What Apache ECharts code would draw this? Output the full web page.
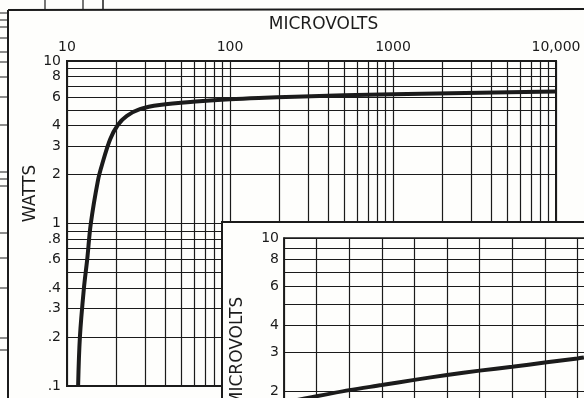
<!DOCTYPE html>
<html><head><meta charset="utf-8">
<script src="https://cdn.jsdelivr.net/npm/echarts@6/dist/echarts.min.js"></script>
<style>html,body{margin:0;padding:0;background:#fefefc}#c{width:584px;height:398px}</style>
</head><body><div id="c"></div>
<script>
// Main chart: power output (watts) vs input (microvolts), log-log
const microvolts = [11.7, 12.0, 12.7, 13.3, 14.0, 15.5, 16.4, 18.4, 20.5, 23.3, 28, 37, 65, 100, 150, 250, 500, 1000, 3400, 10000];
const watts      = [0.1, 0.2, 0.4, 0.6, 1.0, 1.85, 2.3, 3.3, 4.04, 4.59, 5.05, 5.36, 5.65, 5.82, 5.93, 6.03, 6.15, 6.24, 6.38, 6.5];
const xGridValues = [10,20,30,40,50,60,70,80,90,100,200,300,400,500,600,700,800,900,1000,2000,3000,4000,5000,6000,7000,8000,9000,10000];
const xLabelValues = [10, 100, 1000, 10000];
const xLabelTexts = ['10', '100', '1000', '10,000'];
const yGridValues = [0.1,0.2,0.3,0.4,0.5,0.6,0.7,0.8,0.9,1,2,3,4,5,6,7,8,9,10];
const yLabelValues = [0.1,0.2,0.3,0.4,0.6,0.8,1,2,3,4,6,8,10];
const yLabelTexts = ['.1','.2','.3','.4','.6','.8','1','2','3','4','6','8','10'];

// Inset chart: microvolts (log) vs an unlabeled linear scale
const insetPos = [0, 0.64, 2, 3, 4, 5, 6, 7, 8, 9, 9.2];
const insetMicrovolts = [1.77, 1.85, 2.02, 2.13, 2.25, 2.37, 2.48, 2.58, 2.70, 2.82, 2.85];
const insetYGridValues = [1,2,3,4,5,6,7,8,9,10];
const insetYLabelValues = [1,2,3,4,6,8,10];

const INK = '#1b1b1b';
const FONT = 'DejaVu Sans';

function labelFor(values, texts) {
  return function (v) {
    for (let i = 0; i < values.length; i++) {
      if (Math.abs(values[i] - v) < 1e-9 * Math.max(1, v)) return texts[i];
    }
    return '';
  };
}

const stubs = [13, 20, 27, 38, 52, 62, 77, 97, 125, 172, 179, 186, 233, 258, 288, 338, 350];
const deco = [
  {type: 'rect', shape: {x: 222, y: 222, width: 400, height: 200}, style: {fill: '#fefefc', stroke: INK, lineWidth: 2}, z: 10},
  {type: 'line', shape: {x1: 8, y1: 10, x2: 584, y2: 9}, style: {stroke: INK, lineWidth: 2}, z: 10},
  {type: 'line', shape: {x1: 8, y1: 10, x2: 8, y2: 398}, style: {stroke: INK, lineWidth: 2}, z: 10},
  {type: 'line', shape: {x1: 45, y1: 0, x2: 45, y2: 10}, style: {stroke: INK, lineWidth: 1.2}, z: 10},
  {type: 'line', shape: {x1: 83, y1: 0, x2: 83, y2: 10}, style: {stroke: INK, lineWidth: 1.2}, z: 10},
  {type: 'line', shape: {x1: 103, y1: 0, x2: 103, y2: 10}, style: {stroke: INK, lineWidth: 1.5}, z: 10}
].concat(stubs.map(y => ({type: 'line', shape: {x1: 0, y1: y, x2: 8, y2: y}, style: {stroke: INK, lineWidth: 1}, z: 10})));

const chart = echarts.init(document.getElementById('c'), null, {renderer: 'canvas'});
chart.setOption({
  backgroundColor: '#fefefc',
  animation: false,
  grid: [
    {left: 67, top: 61, width: 489, height: 325, show: true, borderColor: INK, borderWidth: 2, backgroundColor: 'transparent', z: 0, outerBoundsMode: 'none', containLabel: false},
    {left: 284, top: 238, width: 326, height: 219, show: true, borderColor: INK, borderWidth: 1.5, backgroundColor: 'transparent', z: 20, outerBoundsMode: 'none', containLabel: false}
  ],
  xAxis: [
    {
      type: 'log', logBase: 10, gridIndex: 0, min: 10, max: 10000, position: 'top',
      name: 'MICROVOLTS', nameLocation: 'middle', nameGap: 28, nameMoveOverlap: false,
      nameTextStyle: {color: INK, fontFamily: FONT, fontSize: 17, padding: [0, 0, 0, 24]},
      axisLine: {show: true, lineStyle: {color: INK, width: 2}},
      axisTick: {show: false, customValues: xGridValues},
      axisLabel: {customValues: xLabelValues, formatter: labelFor(xLabelValues, xLabelTexts), color: INK, fontFamily: FONT, fontSize: 14, margin: 7},
      splitLine: {show: true, lineStyle: {color: INK, width: 1.2}},
      z: 0
    },
    {
      type: 'value', gridIndex: 1, min: 0, max: 10, interval: 1,
      axisLine: {show: false},
      axisTick: {show: false},
      axisLabel: {show: false},
      splitLine: {show: true, lineStyle: {color: INK, width: 1.2}},
      z: 20
    }
  ],
  yAxis: [
    {
      type: 'log', logBase: 10, gridIndex: 0, min: 0.1, max: 10,
      name: 'WATTS', nameLocation: 'middle', nameGap: 28, nameMoveOverlap: false,
      nameTextStyle: {color: INK, fontFamily: FONT, fontSize: 17, padding: [0, 0, 0, 60]},
      axisLine: {show: true, lineStyle: {color: INK, width: 2}},
      axisTick: {show: false, customValues: yGridValues},
      axisLabel: {customValues: yLabelValues, formatter: labelFor(yLabelValues, yLabelTexts), color: INK, fontFamily: FONT, fontSize: 14, margin: 6},
      splitLine: {show: true, lineStyle: {color: INK, width: 1.2}},
      z: 0
    },
    {
      type: 'log', logBase: 10, gridIndex: 1, min: 1, max: 10,
      name: 'MICROVOLTS', nameLocation: 'middle', nameGap: 38, nameMoveOverlap: false,
      nameTextStyle: {color: INK, fontFamily: FONT, fontSize: 17, padding: [0, 8, 0, 0]},
      axisLine: {show: true, lineStyle: {color: INK, width: 1.5}},
      axisTick: {show: false, customValues: insetYGridValues},
      axisLabel: {customValues: insetYLabelValues, color: INK, fontFamily: FONT, fontSize: 14, margin: 5},
      splitLine: {show: true, lineStyle: {color: INK, width: 1.2}},
      z: 20
    }
  ],
  graphic: deco,
  series: [
    {
      type: 'line', xAxisIndex: 0, yAxisIndex: 0, smooth: 0.35, symbol: 'none', z: 5,
      lineStyle: {color: INK, width: 4},
      data: microvolts.map((v, i) => [v, watts[i]])
    },
    {
      type: 'line', xAxisIndex: 1, yAxisIndex: 1, smooth: 0.3, symbol: 'none', z: 30,
      lineStyle: {color: INK, width: 4},
      data: insetPos.map((p, i) => [p, insetMicrovolts[i]])
    }
  ]
});
</script>
</body></html>
